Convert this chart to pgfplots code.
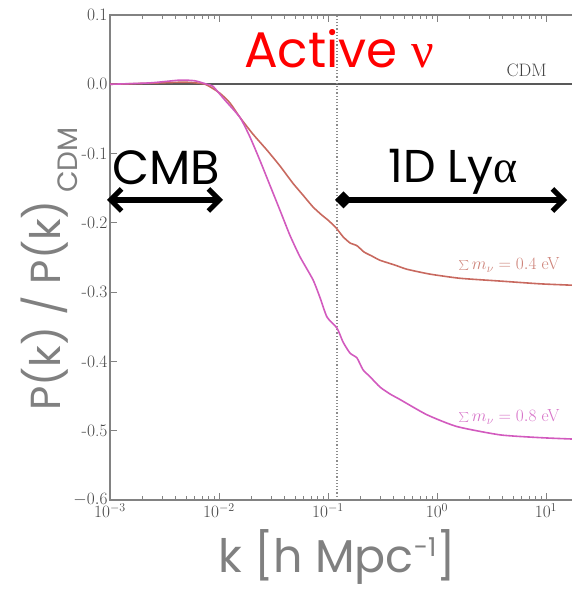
\documentclass[border=0pt]{standalone}
\usepackage{fontspec}
\usepackage{pgfplots}
\pgfplotsset{compat=1.18}
\usetikzlibrary{arrows.meta}
\newfontfamily\comic{Poppins}
\newfontfamily\grk{Liberation Serif}
\newcommand\tl{\fontsize{17.5}{20}\selectfont}
\definecolor{browncurve}{RGB}{200,105,95}
\definecolor{browntext}{RGB}{205,130,120}
\definecolor{pinkcurve}{RGB}{210,90,190}
\definecolor{pinktext}{RGB}{215,115,200}
\definecolor{labgray}{RGB}{128,128,128}
\definecolor{spine}{RGB}{130,130,130}
\begin{document}
\begin{tikzpicture}[x=1pt,y=1pt]
\begin{axis}[at={(110pt,91pt)}, anchor=south west, scale only axis,
  width=468.8pt, height=485pt,
  xmode=log, xmin=1e-3, xmax=20, ymin=-0.6, ymax=0.1,
  xtick={1e-3,1e-2,1e-1,1,10},
  xticklabels={{\tl$10^{-3}$},{\tl$10^{-2}$},{\tl$10^{-1}$},{\tl$10^{0}$},{\tl$10^{1}$}},
  ytick={-0.6,-0.5,-0.4,-0.3,-0.2,-0.1,0,0.1},
  yticklabels={{\tl$-0.6$},{\tl-0.5},{\tl-0.4},{\tl-0.3},{\tl-0.2},{\tl-0.1},{\tl0.0},{\tl0.1}},
  ytick pos=left,
  tick align=inside, major tick length=7pt, minor tick length=4pt,
  axis line style={spine, line width=1.5pt},
  every tick/.style={spine, line width=0.8pt},
  every tick label/.append style={text=black!72},
  yticklabel style={xshift=1pt},
]
% CDM reference
\addplot[black!65, line width=1.6pt] coordinates {(0.001,0) (20,0)};
% dotted vertical line
\addplot[black!45, line width=1.2pt, dotted] coordinates {(0.121,-0.6) (0.121,0.1)};
% sum m = 0.4 eV
\addplot[browncurve, line width=1.6pt, smooth, tension=0.35] coordinates {
(0.001,0) (0.002328,0.0015) (0.004875,0.003) (0.007447,0) (0.01021,-0.013)
(0.01262,-0.027) (0.01560,-0.048) (0.02051,-0.072) (0.02754,-0.095)
(0.03631,-0.118) (0.04775,-0.143) (0.05902,-0.160) (0.07278,-0.177)
(0.08810,-0.189) (0.1,-0.196) (0.1183,-0.207) (0.1374,-0.220)
(0.1592,-0.229) (0.1845,-0.233) (0.2138,-0.242) (0.2535,-0.248)
(0.2999,-0.254) (0.4121,-0.261) (0.5309,-0.267) (0.8630,-0.274)
(1.626,-0.280) (3.784,-0.284) (8.810,-0.288) (17.34,-0.290) (20,-0.2905)};
% sum m = 0.8 eV
\addplot[pinkcurve, line width=1.6pt, smooth, tension=0.35] coordinates {
(0.001,0) (0.002328,0.002) (0.004385,0.006) (0.006026,0.005) (0.007762,0)
(0.008810,-0.003) (0.01135,-0.023) (0.01560,-0.048) (0.01923,-0.076)
(0.02377,-0.110) (0.02938,-0.146) (0.03631,-0.182) (0.04477,-0.218)
(0.05534,-0.249) (0.07278,-0.282) (0.08453,-0.308) (0.09795,-0.336)
(0.1211,-0.352) (0.1374,-0.372) (0.1592,-0.388) (0.1845,-0.395)
(0.2094,-0.412) (0.2427,-0.422) (0.2999,-0.437) (0.3707,-0.447)
(0.4581,-0.455) (0.8091,-0.477) (1.524,-0.494) (3.784,-0.506)
(8.810,-0.510) (17.34,-0.512) (20,-0.5122)};
\end{axis}
% annotations
\node[anchor=base, text=red] at (339,523) {\comic\fontsize{50}{54}\selectfont Active {\grk ν}};
\node[anchor=base west, text=black!75] at (503,514) {\fontsize{18}{20}\selectfont CDM};
\node[anchor=base west, text=browntext] at (455,321) {\fontsize{17.5}{20}\selectfont $\sum m_\nu = 0.4$ eV};
\node[anchor=base west, text=pinktext] at (455,169) {\fontsize{17.5}{20}\selectfont $\sum m_\nu = 0.8$ eV};
\node[anchor=base] at (166,406) {\comic\fontsize{48}{52}\selectfont CMB};
\node[anchor=base] at (453,408) {\comic\fontsize{46}{50}\selectfont 1D Ly{\grk α}};
\draw[line width=5.5pt, {Straight Barb[length=11pt,width=22pt,line width=5pt]}-{Straight Barb[length=11pt,width=22pt,line width=5pt]}]
  (107,391) -- (223,391);
\draw[line width=5.5pt, {Diamond[length=17pt,width=17pt]}-{Straight Barb[length=11pt,width=22pt,line width=5pt]}]
  (335,391) -- (567,391);
\node[anchor=base, rotate=90, text=labgray] at (60,322)
  {\comic\fontsize{42}{46}\selectfont P(k) / P(k)\,\raisebox{-17pt}{\fontsize{28}{30}\selectfont CDM}};
\node[anchor=base, text=labgray] at (337,18)
  {\comic\fontsize{46}{50}\selectfont k [h Mpc\raisebox{17pt}{\fontsize{26}{28}\selectfont -1}]};
\pgfresetboundingbox
\useasboundingbox (0,0) rectangle (572,591);
\end{tikzpicture}
\end{document}
